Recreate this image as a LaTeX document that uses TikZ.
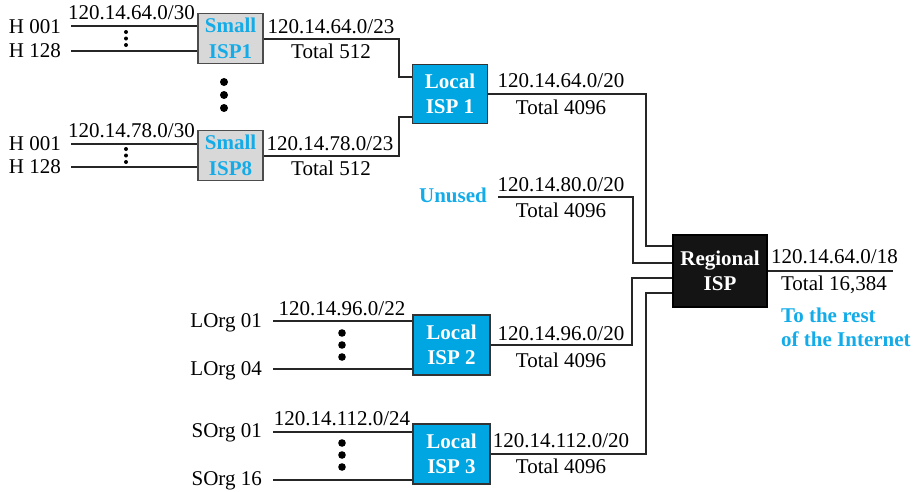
\documentclass[tikz,border=0pt]{standalone}
\usepackage{fontspec}
\setmainfont{Liberation Serif}
\definecolor{ispblue}{RGB}{0,166,226}
\definecolor{txtblue}{RGB}{20,172,232}
\definecolor{smallgray}{RGB}{216,216,216}
\begin{document}
\begin{tikzpicture}[x=1pt,y=-1pt,
  every node/.style={font=\fontsize{21}{25}\selectfont},
  lbl/.style={inner sep=0pt, anchor=base},
  lblr/.style={inner sep=0pt, anchor=base east},
  bluelbl/.style={inner sep=0pt, text=txtblue, font=\fontsize{21}{25}\selectfont\bfseries},
  smallisp/.style={draw=black!70, fill=smallgray, line width=1.5pt, minimum width=65pt, minimum height=50pt, inner sep=0pt, align=center, text=txtblue, font=\fontsize{21}{26}\selectfont\bfseries},
  localisp/.style={draw=black!80, fill=ispblue, line width=1.5pt, minimum width=75pt, minimum height=59pt, inner sep=0pt, align=center, text=white, font=\fontsize{21}{25}\selectfont\bfseries},
  regisp/.style={draw=black, fill=black!92, line width=1.5pt, minimum width=94pt, minimum height=72pt, inner sep=0pt, align=center, text=white, font=\fontsize{21}{25}\selectfont\bfseries},
  wire/.style={line width=2pt, draw=black!85}]
\useasboundingbox (0,0) rectangle (918,491);

% boxes
\node[smallisp] (s1) at (230.5,38.5) {Small\\ISP1};
\node[smallisp] (s8) at (230.5,155.5) {Small\\ISP8};
\node[localisp] (l1) at (450,94) {Local\\ISP 1};
\node[localisp, minimum width=77pt, minimum height=60pt] (l2) at (451.5,345) {Local\\ISP 2};
\node[localisp, minimum width=77pt, minimum height=60pt] (l3) at (451.5,454) {Local\\ISP 3};
\node[regisp] (r) at (720,271) {Regional\\ISP};

% coordinates
\coordinate (h1a) at (71,26);
\coordinate (h1b) at (71,51);
\coordinate (h8a) at (71,144);
\coordinate (h8b) at (71,167);
\coordinate (l1in1) at ([yshift=17pt]l1.west);
\coordinate (l1in2) at ([yshift=-23pt]l1.west);
\coordinate (rin1) at ([yshift=25pt]r.west);
\coordinate (rin2) at ([yshift=8pt]r.west);
\coordinate (rin3) at ([yshift=-7pt]r.west);
\coordinate (rin4) at ([yshift=-22pt]r.west);
\coordinate (un) at (498,197);
\coordinate (out) at (893,271);
\coordinate (lo1) at (273,321);
\coordinate (lo4) at (273,369);
\coordinate (so1) at (273,432);
\coordinate (so16) at (273,480);

% wires
\draw[wire] (h1a) -- (h1a -| s1.west);
\draw[wire] (h1b) -- (h1b -| s1.west);
\draw[wire] (h8a) -- (h8a -| s8.west);
\draw[wire] (h8b) -- (h8b -| s8.west);
\draw[wire] (s1.east) -| ([xshift=-13pt]l1in1) -- (l1in1);
\draw[wire] (s8.east) -| ([xshift=-13pt]l1in2) -- (l1in2);
\draw[wire] (l1.east) -| ([xshift=-26pt]rin1) -- (rin1);
\draw[wire] (un) -| ([xshift=-39pt]rin2) -- (rin2);
\draw[wire] (l2.east) -| ([xshift=-40pt]rin3) -- (rin3);
\draw[wire] (l3.east) -| ([xshift=-26pt]rin4) -- (rin4);
\draw[wire] (r.east) -- (out);
\draw[wire] (lo1) -- (lo1 -| l2.west);
\draw[wire] (lo4) -- (lo4 -| l2.west);
\draw[wire] (so1) -- (so1 -| l3.west);
\draw[wire] (so16) -- (so16 -| l3.west);

% dots
\foreach \y in {32,38.5,45,149,155.5,162} \fill (126,\y) circle (2pt);
\foreach \y in {82,95,108} \fill (224,\y) circle (4pt);
\foreach \y in {333,345,357,443,455,467} \fill (342,\y) circle (3.8pt);

% labels: small ISP 1
\node[lblr] (th1a) at (61,33) {H 001};
\node[lblr] (th1b) at (61,57) {H 128};
\node[lbl] (p1) at (131.5,19) {120.14.64.0/30};
\node[lbl] (p1o) at (331,33) {120.14.64.0/23};
\node[lbl] (t1o) at (331,58) {Total 512};
% small ISP 8
\node[lblr] (th8a) at (61,150) {H 001};
\node[lblr] (th8b) at (61,173) {H 128};
\node[lbl] (p8) at (131.5,137) {120.14.78.0/30};
\node[lbl] (p8o) at (330,150) {120.14.78.0/23};
\node[lbl] (t8o) at (331,175) {Total 512};
% local ISP 1
\node[lbl] (pl1) at (561,87) {120.14.64.0/20};
\node[lbl] (tl1) at (561,114) {Total 4096};
% unused
\node[bluelbl, anchor=base east] (unl) at (487,202) {Unused};
\node[lbl] (pun) at (561,191) {120.14.80.0/20};
\node[lbl] (tun) at (561,217) {Total 4096};
% regional
\node[lbl] (pr) at (834.5,263) {120.14.64.0/18};
\node[lbl] (tr) at (834,290) {Total 16,384};
\node[bluelbl, anchor=base west] (rest1) at (781,322) {To the rest};
\node[bluelbl, anchor=base west] (rest2) at (781,346) {of the Internet};
% local ISP 2
\node[lblr] (lo1l) at (262,327) {LOrg 01};
\node[lblr] (lo4l) at (262,375) {LOrg 04};
\node[lbl] (pl2i) at (342,315) {120.14.96.0/22};
\node[lbl] (pl2) at (561,340) {120.14.96.0/20};
\node[lbl] (tl2) at (561,367) {Total 4096};
% local ISP 3
\node[lblr] (so1l) at (262,437) {SOrg 01};
\node[lblr] (so16l) at (262,485) {SOrg 16};
\node[lbl] (pl3i) at (342,425) {120.14.112.0/24};
\node[lbl] (pl3) at (561,447) {120.14.112.0/20};
\node[lbl] (tl3) at (561,473) {Total 4096};
\end{tikzpicture}
\end{document}
